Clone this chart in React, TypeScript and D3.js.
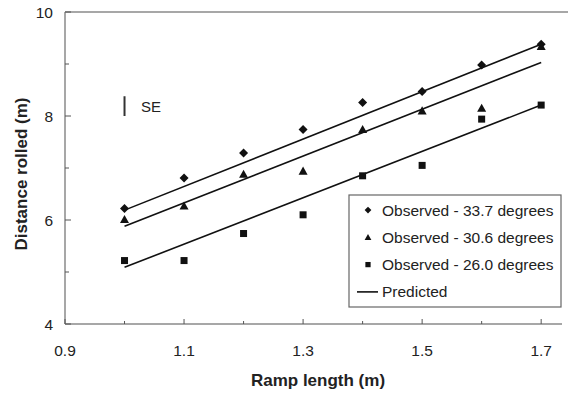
import React from "react";
import * as d3 from "d3";

const rampLengths = [1.0, 1.1, 1.2, 1.3, 1.4, 1.5, 1.6, 1.7];
const obs337 = [6.22, 6.81, 7.29, 7.74, 8.26, 8.47, 8.98, 9.38];
const obs306 = [6.01, 6.27, 6.88, 6.94, 7.74, 8.1, 8.15, 9.34];
const obs260 = [5.22, 5.22, 5.74, 6.1, 6.85, 7.05, 7.94, 8.21];
const predX = [1.0, 1.7];
const pred337 = [6.19, 9.38];
const pred306 = [5.88, 9.03];
const pred260 = [5.09, 8.21];
const xTicks = [0.9, 1.0, 1.1, 1.2, 1.3, 1.4, 1.5, 1.6, 1.7];
const xLabels = [0.9, 1.1, 1.3, 1.5, 1.7];
const yTicks = [4, 5, 6, 7, 8, 9, 10];
const yLabels = [4, 6, 8, 10];
const seRange = [8.0, 8.38];
const legendLabels = [
  "Observed - 33.7 degrees",
  "Observed - 30.6 degrees",
  "Observed - 26.0 degrees",
  "Predicted",
];

const W = 568;
const H = 393;
const x = d3.scaleLinear().domain([0.9, 1.735]).range([65, 562]);
const y = d3.scaleLinear().domain([4, 10]).range([324, 12]);
const FONT = "'Liberation Sans', Arial, sans-serif";
const AXIS = "#8a8a8a";

function Marker({ kind, cx, cy }: { kind: string; cx: number; cy: number }) {
  if (kind === "diamond") {
    const s = 4.5;
    return <path d={`M${cx},${cy - s}L${cx + s},${cy}L${cx},${cy + s}L${cx - s},${cy}Z`} fill="#111" />;
  }
  if (kind === "triangle") {
    const s = 4.5;
    return <path d={`M${cx},${cy - s}L${cx + s},${cy + s * 0.8}L${cx - s},${cy + s * 0.8}Z`} fill="#111" />;
  }
  const s = 3.5;
  return <rect x={cx - s} y={cy - s} width={2 * s} height={2 * s} fill="#111" />;
}

export default function App() {
  const line = d3
    .line<number>()
    .x((_, i) => x(predX[i]))
    .y((d) => y(d));
  const series = [
    { kind: "diamond", data: obs337 },
    { kind: "triangle", data: obs306 },
    { kind: "square", data: obs260 },
  ];
  return (
    <svg width={W} height={H} style={{ position: "absolute", left: 0, top: 0, background: "#fff" }}>
      {/* axes */}
      <line x1={x(0.9)} x2={x(0.9)} y1={y(4)} y2={y(10)} stroke={AXIS} strokeWidth={1.5} />
      <line x1={x(0.9)} x2={568} y1={y(10)} y2={y(10)} stroke={AXIS} strokeWidth={1.5} />
      <line x1={x(0.9)} x2={x(1.735)} y1={y(4)} y2={y(4)} stroke={AXIS} strokeWidth={1.5} />
      {xTicks.map((t, i) => (
        <line key={"xt" + i} x1={x(t)} x2={x(t)} y1={y(4)} y2={y(4) - (xLabels.includes(t) ? 5 : 3)} stroke="#555" strokeWidth={1} />
      ))}
      {yTicks.map((t, i) => (
        <line key={"yt" + i} x1={x(0.9)} x2={x(0.9) + (yLabels.includes(t) ? 6 : 4)} y1={y(t)} y2={y(t)} stroke="#555" strokeWidth={1} />
      ))}
      {xLabels.map((t, i) => (
        <text key={"xl" + i} x={x(t)} y={356} textAnchor="middle" fontFamily={FONT} fontSize={15.5} fill="#222">
          {d3.format(".1f")(t)}
        </text>
      ))}
      {yLabels.map((t, i) => (
        <text key={"yl" + i} x={53} y={y(t) + 6} textAnchor="end" fontFamily={FONT} fontSize={15.5} fill="#222">
          {t}
        </text>
      ))}
      <text x={318} y={386} textAnchor="middle" fontFamily={FONT} fontSize={17} fontWeight="bold" fill="#222">
        Ramp length (m)
      </text>
      <text transform={`translate(27,174) rotate(-90)`} textAnchor="middle" fontFamily={FONT} fontSize={17} fontWeight="bold" fill="#222">
        Distance rolled (m)
      </text>
      {/* SE bar */}
      <line x1={x(1.0)} x2={x(1.0)} y1={y(seRange[0])} y2={y(seRange[1])} stroke="#333" strokeWidth={2} />
      <text x={141} y={112} fontFamily={FONT} fontSize={15} fill="#222">SE</text>
      {/* predicted lines */}
      {[pred337, pred306, pred260].map((p, i) => (
        <path key={"pl" + i} d={line(p) || ""} stroke="#111" strokeWidth={1.6} fill="none" />
      ))}
      {/* observed markers */}
      {series.map((s) =>
        s.data.map((v, i) => <Marker key={s.kind + i} kind={s.kind} cx={x(rampLengths[i])} cy={y(v)} />)
      )}
      {/* legend */}
      <rect x={349} y={195} width={212} height={112} fill="#fff" stroke="#666" strokeWidth={1.2} />
      {legendLabels.map((l, i) => {
        const cy = 210 + i * 27.3;
        return (
          <g key={"lg" + i}>
            {i < 3 ? (
              <g transform={`translate(368,${cy}) scale(0.75) translate(-368,${-cy})`}>
                <Marker kind={series[i].kind} cx={368} cy={cy} />
              </g>
            ) : (
              <line x1={357} x2={378} y1={cy} y2={cy} stroke="#111" strokeWidth={1.6} />
            )}
            <text x={382} y={cy + 5.5} fontFamily={FONT} fontSize={15.5} fill="#222">
              {l}
            </text>
          </g>
        );
      })}
    </svg>
  );
}
